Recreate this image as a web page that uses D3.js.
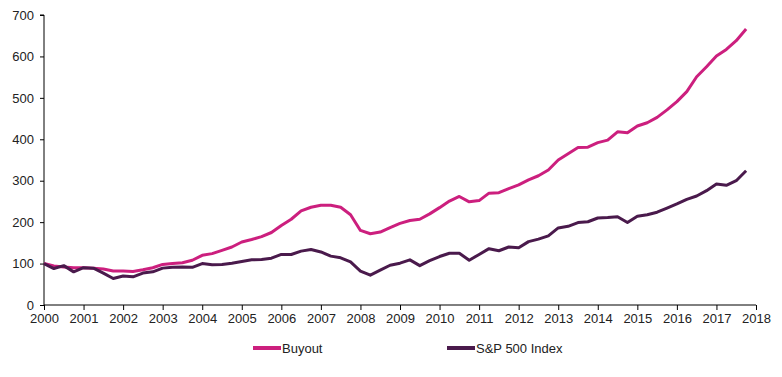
<!DOCTYPE html>
<html>
<head>
<meta charset="utf-8">
<script src="https://cdn.jsdelivr.net/npm/d3@7"></script>
<style>
  html, body { margin: 0; padding: 0; background: #fff; }
  svg { display: block; font-family: "Liberation Sans", Arial, sans-serif; }
</style>
</head>
<body>
<svg id="chart" width="782" height="377"></svg>
<script>
// Quarterly periods starting 2000 Q1
const startYear = 2000;
const seriesNames = ["Buyout", "S&P 500 Index"];
const buyout = [
  100, 94, 92, 90,   90, 89, 87, 82,   82, 81, 85, 90,
  98, 100, 102, 108, 120, 124, 132, 140, 152, 158, 165, 175,
  192, 207, 227, 236, 241, 241, 236, 218, 180, 172, 176, 187,
  197, 204, 207, 220, 235, 251, 262, 249, 252, 270, 271, 281,
  290, 302, 312, 326, 350, 365, 380, 381, 392, 398, 418, 416,
  432, 440, 453, 471, 491, 515, 551, 575, 601, 617, 638, 666
];
const sp500 = [
  100, 88, 95, 80,   90, 89, 77, 64,   70, 68, 77, 80,
  89, 91, 92, 91,   100, 97, 98, 101, 105, 109, 110, 113,
  122, 122, 130, 134, 128, 118, 114, 104, 82, 72, 84, 96,
  101, 109, 95, 107, 117, 125, 125, 108, 122, 136, 131, 140,
  138, 153, 159, 167, 186, 190, 199, 201, 210, 211, 213, 199,
  214, 218, 224, 234, 244, 255, 263, 276, 292, 289, 300, 324
];
const xTicks = d3.range(2000, 2019);
const yTicks = [0, 100, 200, 300, 400, 500, 600, 700];
const colors = ["#CC1F7E", "#4A1A4C"];

const svg = d3.select("#chart");
const x = d3.scaleLinear().domain([2000, 2018]).range([44, 756]);
const y = d3.scaleLinear().domain([0, 700]).range([305, 15]);

// Y axis
const yAxis = d3.axisLeft(y).tickValues(yTicks).tickSize(4).tickPadding(6).tickFormat(d3.format("d"));
const gy = svg.append("g").attr("transform", `translate(${x.range()[0]},0)`).call(yAxis);
gy.select(".domain").attr("stroke", "#000").attr("d", `M-4,${y(700)}H0V${y(0)}`);
gy.selectAll(".tick line").attr("stroke", "#000");
gy.selectAll("text").attr("font-size", 13).attr("fill", "#222");

// X axis
const xAxis = d3.axisBottom(x).tickValues(xTicks).tickSize(5).tickPadding(4).tickFormat(d3.format("d"));
const gx = svg.append("g").attr("transform", `translate(0,${y(0)})`).call(xAxis);
gx.select(".domain").attr("stroke", "#000").attr("d", `M${x(2000)},0H${x(2018)}`);
gx.selectAll(".tick line").attr("stroke", "#000");
gx.selectAll("text").attr("font-size", 13).attr("fill", "#222");

// Lines
const line = d3.line()
  .x((d, i) => x(startYear + i * 0.25))
  .y(d => y(d));

[buyout, sp500].forEach((s, k) => {
  svg.append("path")
    .datum(s)
    .attr("fill", "none")
    .attr("stroke", colors[k])
    .attr("stroke-width", 3)
    .attr("stroke-linejoin", "round")
    .attr("d", line);
});

// Legend
const legendX = [253, 447];
const legendY = 348;
seriesNames.forEach((name, k) => {
  const g = svg.append("g").attr("transform", `translate(${legendX[k]},${legendY})`);
  g.append("line").attr("x1", 0).attr("x2", 28).attr("y1", 0).attr("y2", 0)
    .attr("stroke", colors[k]).attr("stroke-width", 4);
  g.append("text").attr("x", 29).attr("y", 0).attr("dy", "0.35em")
    .attr("font-size", 13).attr("fill", "#222").text(name);
});
</script>
</body>
</html>
